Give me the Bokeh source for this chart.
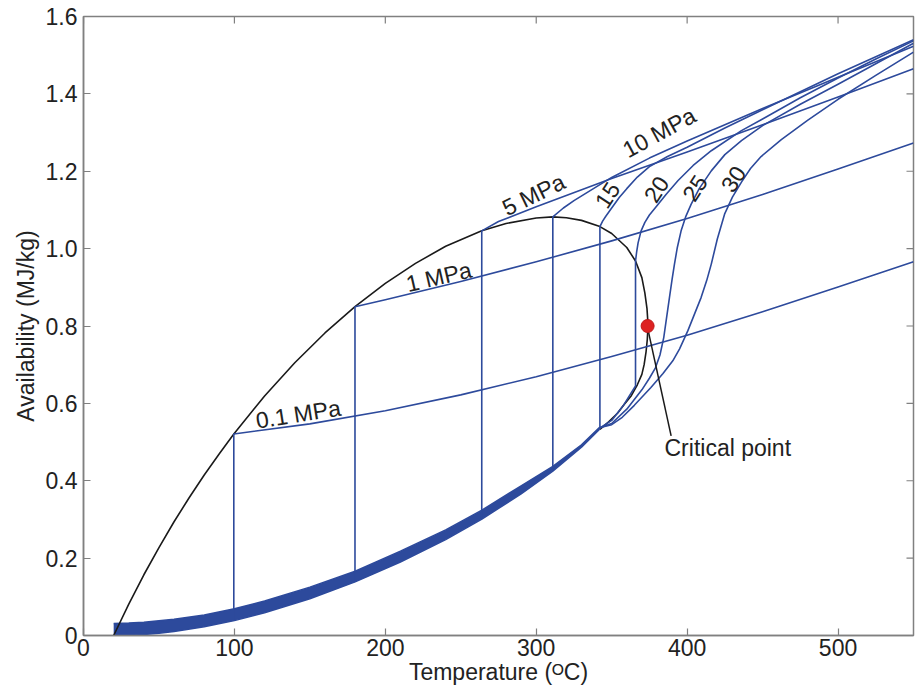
from bokeh.plotting import figure
from bokeh.models import Range1d, FixedTicker
from bokeh.embed import file_html
from bokeh.resources import INLINE
from bokeh.core.properties import value

# ---------------- data ----------------
x_ticks = [0, 100, 200, 300, 400, 500]
y_ticks = [0, 0.2, 0.4, 0.6, 0.8, 1.0, 1.2, 1.4, 1.6]
x_lim = [0, 550]
y_lim = [0, 1.6]

# saturation dome (vapour side up to the critical point, then liquid side)
sat_T = [20, 30, 40, 50, 60, 70, 80, 90, 99.6, 120, 140, 160, 179.9, 200, 220,
         240, 263.9, 280, 300, 311.0, 320, 330, 342.2, 350, 360, 365.8, 370,
         372, 373.4, 374.1, 373.6, 372.8, 371.5, 370, 367, 363, 358, 354, 348,
         342.2]
sat_b = [0.0, 0.081, 0.157, 0.227, 0.294, 0.356, 0.415, 0.470, 0.521, 0.619,
         0.705, 0.782, 0.850, 0.910, 0.962, 1.006, 1.046, 1.065, 1.079, 1.082,
         1.080, 1.073, 1.057, 1.039, 1.003, 0.968, 0.925, 0.885, 0.845, 0.803,
         0.765, 0.734, 0.700, 0.675, 0.648, 0.620, 0.596, 0.575, 0.552, 0.533]

# compressed-liquid band (all isobars overlap here)
band_T = [20, 30, 40, 50, 60, 80, 100, 120, 150, 180, 210, 240, 264, 290, 311,
          330, 342]
band_low = [0.0, 0.0004, 0.0024, 0.0057, 0.0101, 0.0224, 0.0385, 0.0586, 0.095,
            0.1385, 0.190, 0.248, 0.301, 0.366, 0.425, 0.487, 0.533]
band_up = [0.031, 0.032, 0.034, 0.038, 0.042, 0.053, 0.069, 0.089, 0.125, 0.166,
           0.218, 0.273, 0.324, 0.387, 0.437, 0.493, 0.538]

# isobars
p01_T = [99.6, 99.6, 150, 200, 250, 300, 350, 400, 450, 500, 550]
p01_b = [0.038, 0.521, 0.547, 0.581, 0.622, 0.669, 0.721, 0.776, 0.837, 0.901, 0.966]

p1_T = [179.9, 179.9, 200, 250, 300, 350, 400, 450, 500, 550]
p1_b = [0.139, 0.850, 0.868, 0.915, 0.966, 1.020, 1.078, 1.140, 1.206, 1.273]

p5_T = [263.9, 263.9, 275, 300, 350, 400, 450, 500, 550]
p5_b = [0.301, 1.046, 1.070, 1.108, 1.181, 1.250, 1.320, 1.392, 1.465]

p10_T = [311.0, 311.0, 318, 325, 350, 375, 400, 450, 500, 550]
p10_b = [0.425, 1.082, 1.105, 1.124, 1.184, 1.234, 1.278, 1.362, 1.443, 1.523]

p15_T = [342.2, 342.2, 344, 346, 350, 355, 360, 367, 375, 387, 400, 425, 450,
         500, 550]
p15_b = [0.533, 1.057, 1.071, 1.083, 1.105, 1.132, 1.155, 1.185, 1.212, 1.238,
         1.262, 1.312, 1.359, 1.452, 1.540]

p20_T = [342, 350, 358, 365.8, 365.8, 366.5, 367.5, 369.5, 372, 375, 380, 386,
         394, 404, 416, 436, 450, 475, 500, 525, 550]
p20_b = [0.536, 0.556, 0.596, 0.645, 0.968, 0.990, 1.015, 1.046, 1.068, 1.087,
         1.111, 1.140, 1.176, 1.215, 1.253, 1.305, 1.335, 1.390, 1.441, 1.490,
         1.537]

p25_T = [342, 350, 360, 370, 375, 379, 382, 384.5, 386.5, 388.3, 390, 391.6,
         393.5, 396, 399, 402.7, 408, 416, 425, 436, 450, 475, 500, 525, 550]
p25_b = [0.537, 0.548, 0.585, 0.635, 0.665, 0.692, 0.725, 0.770, 0.825, 0.874,
         0.920, 0.960, 1.003, 1.046, 1.082, 1.115, 1.155, 1.201, 1.243, 1.279,
         1.318, 1.373, 1.425, 1.478, 1.531]

p30_T = [342, 350, 357, 365, 376, 384, 390.5, 395, 400.5, 405, 409.3, 413, 416,
         420, 424.8, 430, 436, 442, 449, 462.4, 480, 500, 525, 550]
p30_b = [0.537, 0.545, 0.564, 0.595, 0.641, 0.677, 0.710, 0.741, 0.788, 0.832,
         0.874, 0.918, 0.960, 1.025, 1.089, 1.133, 1.172, 1.207, 1.238, 1.282,
         1.332, 1.386, 1.448, 1.508]

crit_T = [373.8]
crit_b = [0.800]

# labels
lab_text = ["0.1 MPa", "1 MPa", "5 MPa", "10 MPa", "15", "20", "25", "30"]
lab_T = [142.3, 235.5, 298.3, 381.5, 347.0, 379.5, 405.0, 430.4]
lab_b = [0.572, 0.927, 1.139, 1.300, 1.139, 1.154, 1.157, 1.180]
lab_angle = [9, 13, 26, 28.5, 57, 57, 57, 57]

note_text = ["Critical point"]
note_T = [385.0]
note_b = [0.484]
pointer_T = [373.8, 389.4]
pointer_b = [0.795, 0.516]

# ---------------- figure ----------------
BLUE = "#2D4A9C"
BLACK = "#1a1a1a"
AXIS = "#808080"
FONT = "Liberation Sans"
FS = "23px"
FRAME_H = 619.0
FRAME_W = 830.0
TICK_PX = 7

p = figure(width=917, height=689, output_backend="svg", toolbar_location=None,
           x_range=Range1d(*x_lim), y_range=Range1d(*y_lim),
           min_border_left=83, min_border_right=4, min_border_top=16,
           min_border_bottom=54, background_fill_color="white",
           border_fill_color="white")
p.outline_line_color = AXIS
p.outline_line_width = 1.5
p.grid.visible = False

for ax in (p.xaxis[0], p.yaxis[0]):
    ax.axis_line_color = AXIS
    ax.axis_line_width = 1.5
    ax.major_tick_line_color = AXIS
    ax.major_tick_line_width = 1.2
    ax.major_tick_in = TICK_PX
    ax.major_tick_out = 0
    ax.minor_tick_line_color = None
    ax.major_label_text_font = FONT
    ax.major_label_text_font_size = FS
    ax.major_label_text_color = "#222222"
    ax.axis_label_text_font = FONT
    ax.axis_label_text_font_size = FS
    ax.axis_label_text_font_style = "normal"
    ax.axis_label_text_color = "#222222"

xa = p.xaxis[0]
ya = p.yaxis[0]
xa.ticker = FixedTicker(ticks=x_ticks)
ya.ticker = FixedTicker(ticks=y_ticks)
ya.major_label_overrides = {0: "0", 1: "1.0"}
xa.axis_label = "Temperature (ᴼC)"
ya.axis_label = "Availability (MJ/kg)"
xa.major_label_standoff = 3
xa.axis_label_standoff = 0
ya.major_label_standoff = 6
ya.axis_label_standoff = 4

# mirrored inward ticks on the top and right edges of the box
dy = TICK_PX * (y_lim[1] - y_lim[0]) / FRAME_H
dx = TICK_PX * (x_lim[1] - x_lim[0]) / FRAME_W
p.segment(x0=x_ticks, x1=x_ticks, y0=[y_lim[1]] * len(x_ticks),
          y1=[y_lim[1] - dy] * len(x_ticks), line_color=AXIS, line_width=1.2)
p.segment(x0=[x_lim[1]] * len(y_ticks), x1=[x_lim[1] - dx] * len(y_ticks),
          y0=y_ticks, y1=y_ticks, line_color=AXIS, line_width=1.2)

# liquid band
p.varea(x=band_T, y1=band_low, y2=band_up, fill_color=BLUE)
p.line(band_T, band_low, line_color=BLUE, line_width=1.5)
p.line(band_T, band_up, line_color=BLUE, line_width=1.5)

# saturation dome
p.line(sat_T, sat_b, line_color=BLACK, line_width=1.6)

# isobars
for T, b in [(p01_T, p01_b), (p1_T, p1_b), (p5_T, p5_b), (p10_T, p10_b),
             (p15_T, p15_b), (p20_T, p20_b), (p25_T, p25_b), (p30_T, p30_b)]:
    p.line(T, b, line_color=BLUE, line_width=1.6, line_join="round")

# critical point annotation
p.line(pointer_T, pointer_b, line_color=BLACK, line_width=1.5)
p.scatter(crit_T, crit_b, size=13, fill_color="#DD2222", line_color="#C01818",
          line_width=1)

p.text(x=lab_T, y=lab_b, text=lab_text, angle=lab_angle, angle_units="deg",
       text_font=value(FONT), text_font_size=FS, text_align="center",
       text_baseline="middle", text_color="#222222")
p.text(x=note_T, y=note_b, text=note_text, text_font=value(FONT),
       text_font_size=FS, text_align="left", text_baseline="middle",
       text_color="#222222")

open("out.html", "w").write(file_html(p, INLINE))
